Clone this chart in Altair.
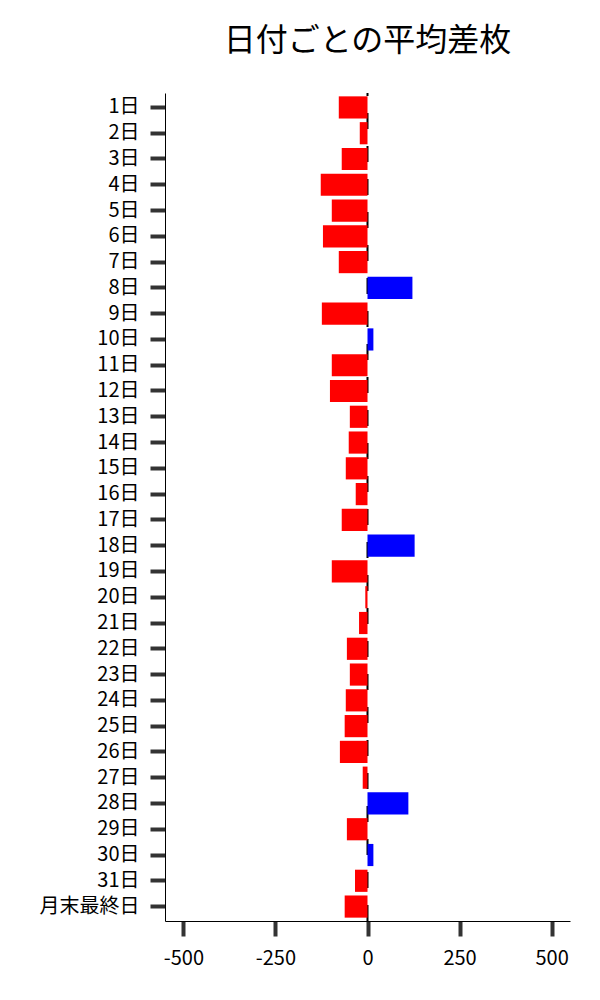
import altair as alt
import pandas as pd

days = [f"{i}日" for i in range(1, 32)] + ["月末最終日"]
values = [-78, -21, -70, -127, -97, -121, -78, 122, -124, 16,
          -97, -102, -48, -51, -59, -32, -70, 128, -97, -6,
          -23, -56, -48, -59, -62, -75, -13, 111, -56, 16,
          -34, -62]
x_ticks = [-500, -250, 0, 250, 500]

df = pd.DataFrame({"day": days, "value": values})

FONT = "Noto Sans CJK JP"
W, H = 405, 828

x_scale = alt.Scale(domain=[-550, 550], nice=False, zero=False)

rule = alt.Chart(pd.DataFrame({"zero": [0]})).mark_rule(
    color="black", strokeWidth=2, strokeDash=[16, 17]
).encode(
    x=alt.X("zero:Q", scale=x_scale),
    y=alt.value(H),
    y2=alt.value(0),
)

bars = alt.Chart(df).mark_bar().encode(
    y=alt.Y(
        "day:N",
        sort=days,
        scale=alt.Scale(paddingInner=0.14, paddingOuter=0.13),
        axis=alt.Axis(
            title=None,
            labelFont=FONT,
            labelFontSize=20,
            labelColor="black",
            labelPadding=11,
            labelOverlap=False,
            tickColor="#333333",
            tickWidth=4,
            tickSize=15,
            domainColor="black",
            domainWidth=1,
        ),
    ),
    x=alt.X(
        "value:Q",
        scale=x_scale,
        axis=alt.Axis(
            title=None,
            values=x_ticks,
            grid=False,
            labelFont=FONT,
            labelFontSize=20,
            labelColor="black",
            labelPadding=12,
            labelExpr="'' + datum.value",
            tickColor="#333333",
            tickWidth=4,
            tickSize=15,
            domainColor="black",
            domainWidth=1,
        ),
    ),
    color=alt.condition(alt.datum.value > 0, alt.value("#0000ff"), alt.value("#ff0000")),
)

chart = alt.layer(rule, bars).properties(
    width=W,
    height=H,
    title=alt.TitleParams(
        "日付ごとの平均差枚",
        font=FONT,
        fontSize=32,
        fontWeight="normal",
        color="black",
        anchor="middle",
        offset=34,
    ),
    autosize=alt.AutoSizeParams(type="none"),
    padding={"left": 157, "top": 85, "right": 20, "bottom": 70},
).configure_view(stroke=None)

chart.save("out.html", embed_options={"renderer": "svg", "actions": False})
